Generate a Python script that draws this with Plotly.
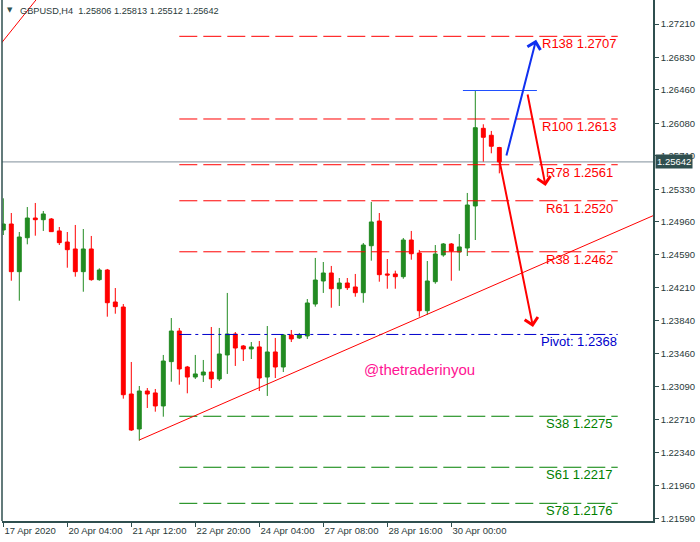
import plotly.graph_objects as go

# ---------------- data ----------------
symbol_title = "GBPUSD,H4  1.25806 1.25813 1.25512 1.25642"

bar_index = list(range(63))
opens = [1.24868, 1.24936, 1.24394, 1.24780, 1.25004, 1.24985, 1.24993, 1.24857, 1.24731, 1.24652,
         1.24394, 1.24652, 1.24303, 1.24413, 1.24049, 1.23992, 1.23003, 1.22605, 1.23037, 1.23015,
         1.22867, 1.23371, 1.23719, 1.23310, 1.23196, 1.23219, 1.23253, 1.23174, 1.23447, 1.23685,
         1.23549, 1.23515, 1.23538, 1.23196, 1.23481, 1.23310, 1.23674, 1.23640, 1.23663, 1.24026,
         1.24288, 1.24379, 1.24200, 1.24265, 1.24220, 1.24155, 1.24689, 1.24970, 1.24368, 1.24368,
         1.24337, 1.24754, 1.24606, 1.23950, 1.24280, 1.24584, 1.24709, 1.24618, 1.24663, 1.25141,
         1.26024, 1.25945, 1.25806]
highs = [1.25228, 1.25061, 1.24845, 1.25129, 1.25175, 1.25084, 1.25004, 1.24902, 1.24845, 1.24925,
         1.24879, 1.24800, 1.24432, 1.24425, 1.24208, 1.24026, 1.23367, 1.23094, 1.23071, 1.23060,
         1.23447, 1.23867, 1.23754, 1.23322, 1.23447, 1.23390, 1.23765, 1.23754, 1.24152, 1.23708,
         1.23560, 1.23594, 1.23606, 1.23776, 1.23640, 1.23685, 1.23731, 1.23697, 1.24083, 1.24550,
         1.24504, 1.24459, 1.24322, 1.24322, 1.24368, 1.24720, 1.25186, 1.25061, 1.24538, 1.24405,
         1.24777, 1.24857, 1.24641, 1.24515, 1.24697, 1.24720, 1.24720, 1.24822, 1.25289, 1.26448,
         1.26070, 1.25994, 1.25813]
lows = [1.24811, 1.24291, 1.24064, 1.24705, 1.24803, 1.24857, 1.24845, 1.24697, 1.24439, 1.24337,
        1.24166, 1.24291, 1.24291, 1.23882, 1.23916, 1.22950, 1.22583, 1.22472, 1.22844, 1.22802,
        1.22745, 1.23143, 1.23109, 1.23011, 1.23174, 1.23140, 1.23071, 1.23151, 1.23231, 1.23322,
        1.23378, 1.23401, 1.23037, 1.22981, 1.23185, 1.23253, 1.23594, 1.23629, 1.23629, 1.23996,
        1.24152, 1.23984, 1.24004, 1.24186, 1.24109, 1.24041, 1.24519, 1.24280, 1.24200, 1.24200,
        1.24314, 1.24530, 1.23882, 1.23905, 1.24257, 1.24564, 1.24291, 1.24405, 1.24572, 1.24754,
        1.25645, 1.25740, 1.25512]
closes = [1.24936, 1.24394, 1.24788, 1.25004, 1.24985, 1.25050, 1.24849, 1.24724, 1.24644, 1.24394,
          1.24652, 1.24303, 1.24413, 1.24041, 1.23996, 1.22995, 1.22594, 1.23037, 1.23003, 1.22867,
          1.23378, 1.23719, 1.23288, 1.23196, 1.23231, 1.23253, 1.23174, 1.23458, 1.23685, 1.23526,
          1.23515, 1.23538, 1.23185, 1.23481, 1.23310, 1.23674, 1.23629, 1.23674, 1.24038, 1.24299,
          1.24379, 1.24200, 1.24265, 1.24212, 1.24155, 1.24697, 1.24959, 1.24360, 1.24356, 1.24337,
          1.24754, 1.24598, 1.23950, 1.24288, 1.24595, 1.24709, 1.24629, 1.24675, 1.25152, 1.26031,
          1.25922, 1.25820, 1.25642]

x_tick_pos = [0, 8, 16, 24, 32, 40, 48, 56]
x_tick_text = ["17 Apr 2020", "20 Apr 04:00", "21 Apr 12:00", "22 Apr 20:00",
               "24 Apr 04:00", "27 Apr 08:00", "28 Apr 16:00", "30 Apr 00:00"]
y_tick_vals = [1.21590, 1.21960, 1.22340, 1.22710, 1.23090, 1.23460, 1.23840, 1.24210,
               1.24590, 1.24960, 1.25330, 1.25710, 1.26080, 1.26460, 1.26830, 1.27210]

level_names = ["R138", "R100", "R78", "R61", "R38", "Pivot:", "S38", "S61", "S78"]
level_values = [1.2707, 1.2613, 1.2561, 1.2520, 1.2462, 1.2368, 1.2275, 1.2217, 1.2176]
level_kinds = ["R", "R", "R", "R", "R", "P", "S", "S", "S"]
level_start, level_end, level_label_x = 22, 76.8, 72

current_price = 1.25642

# trendline anchors (bar index, price)
trend_a = (17, 1.2248)
trend_b = (52, 1.2387)
old_trend_a = (0, 1.2702)
old_trend_b = (3.7, 1.2744)

# blue horizontal at swing high
swing_high = 1.26454
swing_x = (57.45, 66.7)

# arrows: (tail_x, tail_price, head_x, head_price)
blue_arrow = (62.84, 1.25698, 66.6, 1.27030)
red_arrow_a = (65.5, 1.26426, 67.78, 1.25368)
red_arrow_b = (62.0, 1.25664, 66.21, 1.23765)

watermark = "@thetraderinyou"
watermark_pos = (52, 1.23276)

# ---------------- style ----------------
GREEN = "#228B22"
RED = "#FF0000"
FRAME = "#2F4F4F"
TXT = "#2A3A3A"
FONT = "Liberation Sans"

X_RANGE = [-0.1625, 81.21]
Y_RANGE = [1.21559, 1.27483]

fig = go.Figure()
fig.add_trace(go.Candlestick(
    x=bar_index, open=opens, high=highs, low=lows, close=closes,
    increasing=dict(line=dict(color=GREEN, width=1), fillcolor=GREEN),
    decreasing=dict(line=dict(color=RED, width=1), fillcolor=RED),
    whiskerwidth=0, showlegend=False, hoverinfo="skip"))

shapes = []
annotations = []

# current price line
shapes.append(dict(type="line", xref="paper", x0=0, x1=1, yref="y", y0=current_price, y1=current_price,
                   line=dict(color="#7F8F9A", width=1), layer="below"))

# levels
for name, val, kind in zip(level_names, level_values, level_kinds):
    if kind == "R":
        col, dash = RED, "18px,6px"
    elif kind == "S":
        col, dash = "#008000", "18px,6px"
    else:
        col, dash = "#0000CC", "12px,4px,3px,4px"
    shapes.append(dict(type="line", x0=level_start, x1=level_end, y0=val, y1=val,
                       line=dict(color=col, width=1, dash=dash)))
    annotations.append(dict(x=level_label_x, y=val, xanchor="center", yanchor="top",
                            text=f"{name} {val:.4f}", showarrow=False, yshift=2,
                            font=dict(family=FONT, size=13, color=col)))

# trendlines (extended rays)
slope = (trend_b[1] - trend_a[1]) / (trend_b[0] - trend_a[0])
shapes.append(dict(type="line", x0=trend_a[0], y0=trend_a[1], x1=X_RANGE[1] + 1,
                   y1=trend_a[1] + slope * (X_RANGE[1] + 1 - trend_a[0]),
                   line=dict(color=RED, width=1)))
slope2 = (old_trend_b[1] - old_trend_a[1]) / (old_trend_b[0] - old_trend_a[0])
shapes.append(dict(type="line", x0=-1, y0=old_trend_a[1] + slope2 * (-1 - old_trend_a[0]),
                   x1=6, y1=old_trend_a[1] + slope2 * (6 - old_trend_a[0]),
                   line=dict(color=RED, width=1)))

# blue swing-high line
shapes.append(dict(type="line", x0=swing_x[0], x1=swing_x[1], y0=swing_high, y1=swing_high,
                   line=dict(color="#2050FF", width=1)))

# frame (left edge)
shapes.append(dict(type="line", xref="paper", yref="paper", x0=0, x1=0, y0=0, y1=1.05,
                   line=dict(color=FRAME, width=1.5)))

# arrows
for arr, col in [(blue_arrow, "#1030F0"), (red_arrow_a, RED), (red_arrow_b, RED)]:
    tx, ty, hx, hy = arr
    annotations.append(dict(x=hx, y=hy, ax=tx, ay=ty, xref="x", yref="y", axref="x", ayref="y",
                            showarrow=True, arrowhead=4, arrowsize=1.3, arrowwidth=2,
                            arrowcolor=col, text=""))

# watermark
annotations.append(dict(x=watermark_pos[0], y=watermark_pos[1], text=watermark, showarrow=False,
                        font=dict(family=FONT, size=15, color="#FF1493")))

# title
annotations.append(dict(xref="paper", yref="paper", x=16 / 651, y=1 - 11 / 521, xanchor="left",
                        yanchor="middle", text=symbol_title.replace("  ", "&nbsp; "), showarrow=False,
                        font=dict(family=FONT, size=9.2, color=TXT)))
annotations.append(dict(xref="paper", yref="paper", x=8 / 651, y=1 - 10 / 521, xanchor="center",
                        yanchor="middle", text="▼", showarrow=False,
                        font=dict(family="DejaVu Sans", size=7, color=FRAME)))

# current price tag
annotations.append(dict(xref="paper", yref="y", x=1, y=current_price, xanchor="left", xshift=2,
                        yanchor="middle", text=f"{current_price:.5f}", showarrow=False,
                        bgcolor=FRAME, borderpad=1,
                        font=dict(family=FONT, size=9.5, color="white")))

fig.update_layout(
    width=700, height=542, autosize=False,
    margin=dict(l=2, r=47, t=0, b=21, pad=0),
    paper_bgcolor="white", plot_bgcolor="white",
    shapes=shapes, annotations=annotations,
    boxgap=0.3, boxgroupgap=0.3,
    xaxis=dict(range=X_RANGE, rangeslider=dict(visible=False), showgrid=False, zeroline=False,
               tickmode="array", tickvals=x_tick_pos, ticktext=x_tick_text,
               ticks="outside", ticklen=4, tickcolor=FRAME, tickwidth=1,
               ticklabelposition="outside right",
               showline=True, linecolor=FRAME, linewidth=1.5,
               tickfont=dict(family=FONT, size=9.5, color=TXT), automargin=False),
    yaxis=dict(range=Y_RANGE, side="right", showgrid=False, zeroline=False,
               tickmode="array", tickvals=y_tick_vals, ticktext=[f"{v:.5f}" for v in y_tick_vals],
               ticks="outside", ticklen=4, tickcolor=FRAME, tickwidth=1,
               showline=True, linecolor=FRAME, linewidth=1.5,
               tickfont=dict(family=FONT, size=9.5, color=TXT), automargin=False),
)

fig.write_html("out.html", config={"displayModeBar": False},
               post_script="document.body.style.margin='0';")
